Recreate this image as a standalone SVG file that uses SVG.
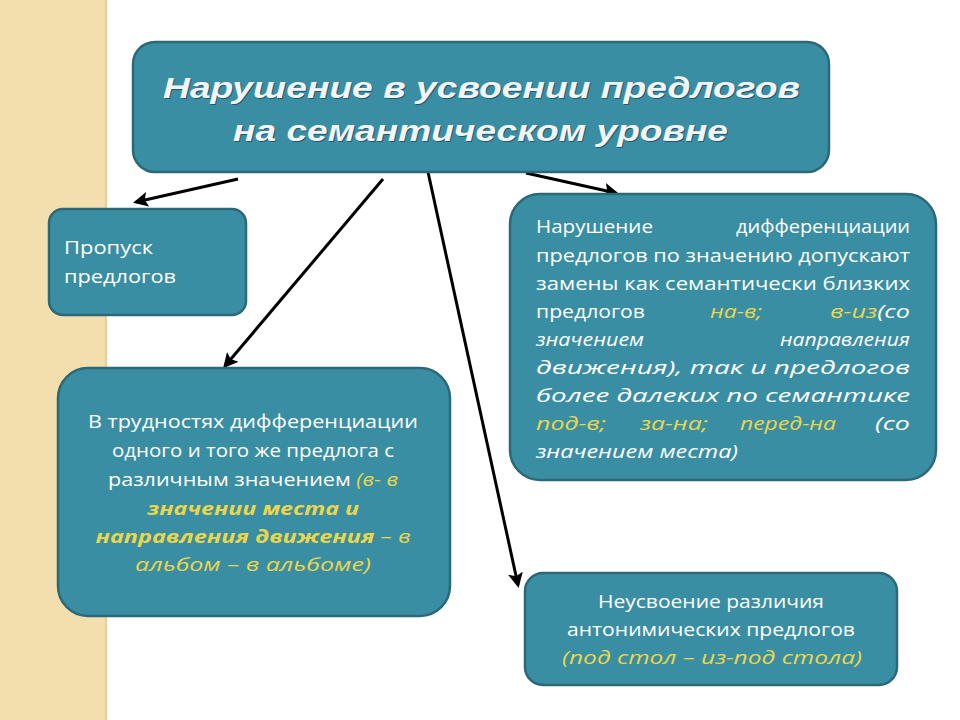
<svg xmlns="http://www.w3.org/2000/svg" width="960" height="720" viewBox="0 0 960 720">
<style>
.box{fill:#3a8ea3;stroke:#2b6878;stroke-width:2.5}
.t{font-family:"Open Sans","DejaVu Sans",sans-serif;font-size:18px;fill:#fff}
.h{font-family:"Liberation Sans",Arial,sans-serif;font-size:30px;font-weight:bold;font-style:italic;fill:#f2f4f6}
.s{fill:#24586a}
.i{font-style:italic}
.y{fill:#e9d64c;font-style:italic}
.yb{fill:#e9d64c;font-style:italic;font-weight:bold}
.c{stroke:#000;stroke-width:3;fill:none;marker-end:url(#a)}
</style>
<defs>
<marker id="a" viewBox="0 0 10 10" refX="8" refY="5" markerWidth="5" markerHeight="5" orient="auto"><path d="M0,0 L10,5 L0,10 L2,5 z" fill="#000"/></marker>
</defs>
<rect width="960" height="720" fill="#fff"/>
<rect x="0" y="0" width="106" height="720" fill="#f3dfae"/>
<line x1="106" y1="0" x2="106" y2="720" stroke="#e6cf98" stroke-width="2"/>
<g id="connectors">
<path class="c" d="M238,179 L136,202"/>
<path class="c" d="M383,179 L225,366"/>
<path class="c" d="M428,172 L518,585"/>
<path class="c" d="M526,173 L616,193"/>
</g>
<g id="title">
<rect class="box" x="133" y="42" width="696" height="130" rx="22"/>
<text class="h s" x="164" y="99" textLength="637" lengthAdjust="spacingAndGlyphs">Нарушение в усвоении предлогов</text>
<text class="h" x="163" y="98" textLength="637" lengthAdjust="spacingAndGlyphs">Нарушение в усвоении предлогов</text>
<text class="h s" x="234" y="142" textLength="495" lengthAdjust="spacingAndGlyphs">на семантическом уровне</text>
<text class="h" x="233" y="141" textLength="495" lengthAdjust="spacingAndGlyphs">на семантическом уровне</text>
</g>
<g id="skip">
<rect class="box" x="49" y="209" width="197" height="106" rx="14"/>
<text class="t" x="64" y="254" textLength="89" lengthAdjust="spacingAndGlyphs">Пропуск</text>
<text class="t" x="64" y="283" textLength="112" lengthAdjust="spacingAndGlyphs">предлогов</text>
</g>
<g id="same">
<rect class="box" x="58" y="368" width="392" height="248" rx="30"/>
<text class="t" x="253" y="428" text-anchor="middle" textLength="330" lengthAdjust="spacingAndGlyphs">В трудностях дифференциации</text>
<text class="t" x="253" y="457" text-anchor="middle" textLength="282" lengthAdjust="spacingAndGlyphs">одного и того же предлога с</text>
<text class="t" x="253" y="486" text-anchor="middle" textLength="290" lengthAdjust="spacingAndGlyphs">различным значением <tspan class="y">(в- в</tspan></text>
<text class="t yb" x="253" y="515" text-anchor="middle" textLength="212" lengthAdjust="spacingAndGlyphs">значении места и</text>
<text class="t" x="253" y="543" text-anchor="middle" textLength="315" lengthAdjust="spacingAndGlyphs"><tspan class="yb">направления движения</tspan><tspan class="y"> – в</tspan></text>
<text class="t y" x="253" y="571" text-anchor="middle" textLength="236" lengthAdjust="spacingAndGlyphs">альбом – в альбоме)</text>
</g>
<g id="diff">
<rect class="box" x="510" y="194" width="426" height="286" rx="30"/>
<text class="t" x="536" y="233" textLength="117" lengthAdjust="spacingAndGlyphs">Нарушение</text>
<text class="t" x="910" y="233" text-anchor="end" textLength="174" lengthAdjust="spacingAndGlyphs">дифференциации</text>
<text class="t" x="536" y="262" textLength="374" lengthAdjust="spacingAndGlyphs">предлогов по значению допускают</text>
<text class="t" x="536" y="290" textLength="374" lengthAdjust="spacingAndGlyphs">замены как семантически близких</text>
<text class="t" x="536" y="318" textLength="109" lengthAdjust="spacingAndGlyphs">предлогов</text>
<text class="t y" x="710" y="318" textLength="52" lengthAdjust="spacingAndGlyphs">на-в;</text>
<text class="t i" x="910" y="318" text-anchor="end" textLength="80" lengthAdjust="spacingAndGlyphs"><tspan class="y">в-из</tspan>(со</text>
<text class="t i" x="536" y="346" textLength="108" lengthAdjust="spacingAndGlyphs">значением</text>
<text class="t i" x="910" y="346" text-anchor="end" textLength="130" lengthAdjust="spacingAndGlyphs">направления</text>
<text class="t i" x="536" y="374" textLength="374" lengthAdjust="spacingAndGlyphs">движения), так и предлогов</text>
<text class="t i" x="536" y="402" textLength="374" lengthAdjust="spacingAndGlyphs">более далеких по семантике</text>
<text class="t y" x="536" y="430" textLength="70" lengthAdjust="spacingAndGlyphs">под-в;</text>
<text class="t y" x="640" y="430" textLength="68" lengthAdjust="spacingAndGlyphs">за-на;</text>
<text class="t y" x="740" y="430" textLength="96" lengthAdjust="spacingAndGlyphs">перед-на</text>
<text class="t i" x="910" y="430" text-anchor="end" textLength="35" lengthAdjust="spacingAndGlyphs">(со</text>
<text class="t i" x="536" y="458" textLength="202" lengthAdjust="spacingAndGlyphs">значением места)</text>
</g>
<g id="anton">
<rect class="box" x="525" y="573" width="372" height="112" rx="18"/>
<text class="t" x="711" y="608" text-anchor="middle" textLength="226" lengthAdjust="spacingAndGlyphs">Неусвоение различия</text>
<text class="t" x="711" y="636" text-anchor="middle" textLength="288" lengthAdjust="spacingAndGlyphs">антонимических предлогов</text>
<text class="t y" x="712" y="664" text-anchor="middle" textLength="300" lengthAdjust="spacingAndGlyphs">(под стол – из-под стола)</text>
</g>
</svg>
